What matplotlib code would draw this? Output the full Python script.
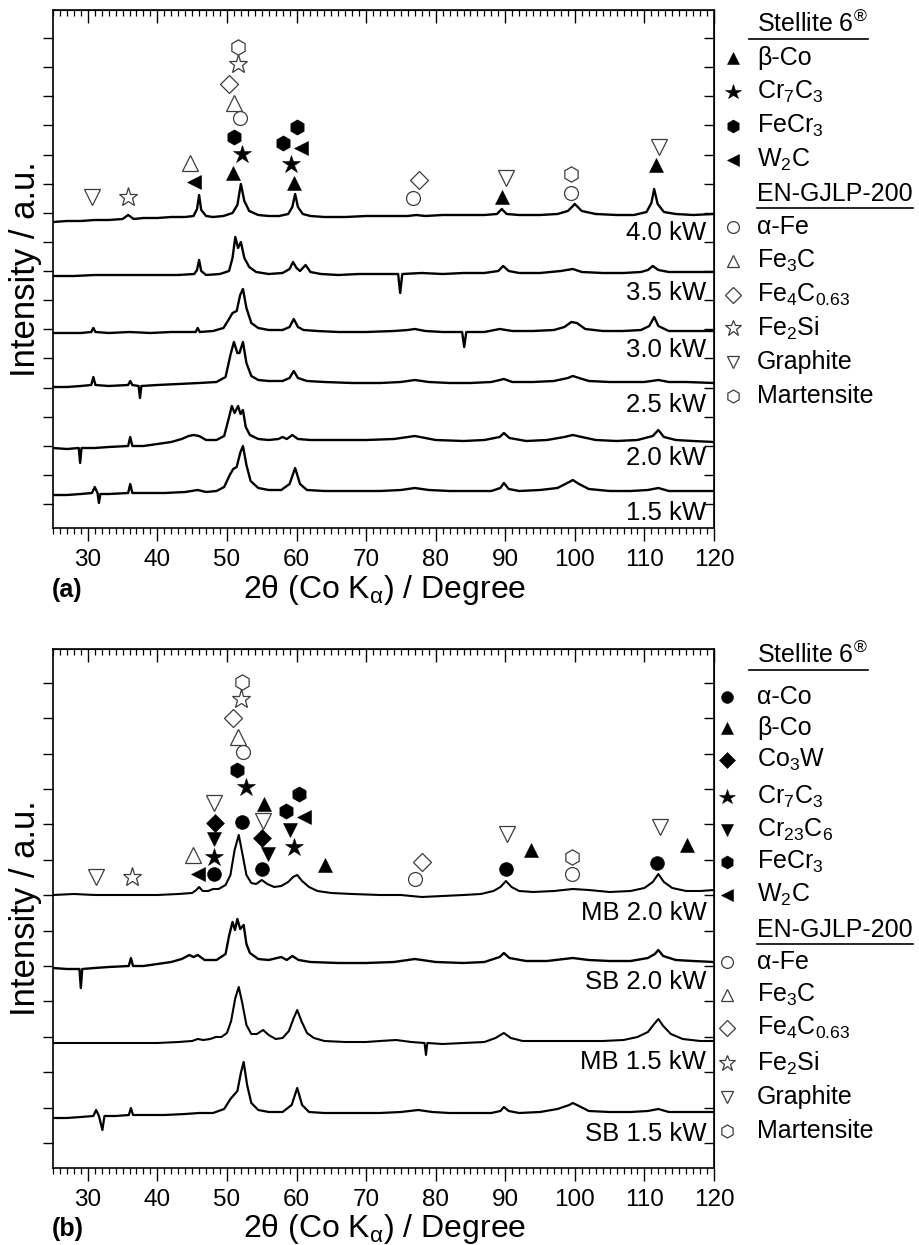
import matplotlib
matplotlib.use('Agg')
import matplotlib.pyplot as plt
from matplotlib.ticker import MultipleLocator, FixedLocator, NullFormatter
import numpy as np

plt.rcParams['font.family'] = ['Liberation Sans', 'DejaVu Sans']
plt.rcParams['mathtext.fontset'] = 'custom'
plt.rcParams['mathtext.rm'] = 'Liberation Sans'
plt.rcParams['mathtext.it'] = 'Liberation Sans:italic'
plt.rcParams['mathtext.bf'] = 'Liberation Sans:bold'
plt.rcParams['mathtext.default'] = 'regular'

# ---------------- data: panel (a) ----------------
a_labels = ['4.0 kW', '3.5 kW', '3.0 kW', '2.5 kW', '2.0 kW', '1.5 kW']
a_offsets = [311, 252, 195, 143, 83, 35]

a_40 = [(25,-5),(27,-4),(29,-4),(31,-3),(33,-3),(35,-2),(35.8,2),(36.6,-2),(38,-1),(40,-1),(42,0),(44,0),
        (45.2,1),(45.7,8),(46.0,22),(46.3,7),(47.0,1),(48,0),(49.5,1),(50.8,4),(51.5,12),(52.0,33),(52.5,16),
        (53.2,6),(54.5,2),(56,1),(57.5,1),(58.8,3),(59.4,10),(59.8,23),(60.2,10),(60.9,3),(62,1),(64,0),(67,0),
        (70,1),(73,1),(76,1),(77.2,2),(78.5,1),(81,2),(84,2),(87,2),(88.8,3),(89.5,8),(90.2,3),(92,2),(95,2),
        (97.5,3),(99.0,6),(100.0,13),(101.0,6),(103,3),(106,2),(108.5,2),(110.3,5),(111.0,14),(111.4,28),
        (111.9,13),(112.8,5),(114.5,3),(117,2),(120,3)]
a_35 = [(25,0),(28,0),(31,1),(34,1),(37,1),(40,1),(43,1),(45.3,2),(45.7,6),(46.0,16),(46.3,5),(47,1),(49,2),
        (50.3,5),(50.8,18),(51.2,39),(51.6,28),(52.0,34),(52.5,18),(53.2,9),(54.2,4),(56,2),(58,3),(59.0,7),
        (59.5,14),(60.0,8),(60.5,5),(61.3,11),(62.0,4),(63.5,2),(66,1),(69,2),(72,2),(74.6,2),(74.9,-17),
        (75.2,2),(78,3),(81,2),(84,3),(87,3),(89.0,5),(89.7,10),(90.5,5),(92,3),(95,3),(98,5),(99.7,7),(101,4),
        (104,3),(107,3),(109.5,4),(110.5,6),(111.2,10),(112,6),(113.5,4),(116,4),(120,4)]
a_30 = [(25,0),(27,0),(29,0),(30.5,1),(30.8,5),(31.1,1),(33,0),(36,1),(39,0),(42,1),(44,1),(45.5,1),(45.8,5),
        (46.1,1),(48,2),(49.5,5),(50.3,14),(50.8,20),(51.4,22),(51.9,38),(52.3,44),(52.8,25),(53.5,10),(54.5,5),
        (56,3),(58,3),(59.0,6),(59.6,14),(60.2,6),(61,3),(63,2),(66,1),(70,1),(74,2),(76,3),(77,4),(78.5,2),
        (81,1),(83.8,1),(84.1,-14),(84.4,1),(87,1),(89.2,4),(91,2),(94,2),(97,3),(98.5,6),(99.5,11),(100.3,10),
        (101.5,4),(104,2),(107,2),(109.5,3),(110.7,7),(111.4,16),(112.0,7),(113.5,2),(116,2),(120,2)]
a_25 = [(25,-2),(27,-2),(29,-1),(30.5,0),(30.8,8),(31.1,0),(33,-1),(35.8,0),(36.1,4),(36.4,0),(37.3,-1),
        (37.5,-13),(37.7,-1),(40,0),(43,1),(46,2),(48.5,3),(49.8,8),(50.5,30),(51.0,43),(51.5,32),(51.8,32),
        (52.3,43),(52.8,22),(53.5,9),(54.5,5),(56,4),(58,4),(59.0,7),(59.6,14),(60.2,7),(61.5,4),(64,3),(68,2),
        (72,2),(75,3),(77,5),(79,3),(82,2),(85,2),(88,3),(89.8,6),(91,3),(94,3),(97,4),(99.0,7),(99.7,9),
        (100.6,7),(102,4),(105,3),(108,3),(110,3),(112,5),(113.5,3),(116,3),(120,2)]
a_20 = [(25,-3),(27,-4),(28.7,-3),(28.9,-18),(29.1,-3),(31,-3),(33,-2),(35.8,-1),(36.1,8),(36.4,-1),(38,-1),
        (40,1),(42,3),(43.5,6),(44.5,9),(45.2,10),(46.0,9),(47,5),(48.5,5),(49.6,9),(50.2,25),(50.7,39),
        (51.1,32),(51.6,39),(51.95,31),(52.3,35),(52.7,18),(53.3,10),(54.5,6),(56,5),(57.4,6),(58.0,8),(58.6,6),
        (59.4,10),(60.2,6),(62,5),(65,5),(70,5),(74,6),(77,9),(80,5),(84,4),(87,5),(89.2,8),(89.8,12),(90.6,7),
        (93,4),(96,5),(98.5,8),(99.7,10),(101,8),(103,5),(106,4),(109,5),(111.2,9),(112,15),(112.8,8),
        (114.5,5),(117,4),(120,3)]
a_15 = [(25,-2),(27,-2),(29,-1),(30.6,0),(31.0,6),(31.4,0),(31.6,-10),(31.8,-1),(33,-1),(35.8,0),(36.1,9),
        (36.4,0),(38,0),(41,0),(44,1),(45.8,3),(47,1),(48.5,2),(49.6,6),(50.4,18),(50.9,24),(51.4,26),(51.9,40),
        (52.3,47),(52.8,28),(53.4,12),(54.5,5),(56,3),(57.8,3),(59.0,9),(59.8,25),(60.5,9),(61.5,3),(64,2),
        (68,2),(72,2),(75,3),(77,5),(79,3),(82,2),(85,2),(88,2),(89.3,5),(89.8,10),(90.5,4),(92,2),(95,3),
        (97.5,5),(99.2,11),(99.7,13),(100.6,9),(102,4),(105,2),(108,2),(110.5,3),(112,5),(113.5,2),(116,2),
        (120,2)]
a_traces = [a_40, a_35, a_30, a_25, a_20, a_15]

# ---------------- data: panel (b) ----------------
b_labels = ['MB 2.0 kW', 'SB 2.0 kW', 'MB 1.5 kW', 'SB 1.5 kW']
b_offsets = [273, 202, 125, 53]

b_mb20 = [(25,0),(28,1),(31,0),(34,0),(37,0),(40,0),(43,1),(45.0,2),(45.6,5),(46.0,8),(46.5,4),(47.3,4),
          (48.0,6),(48.8,6),(49.8,10),(50.5,20),(51.1,45),(51.7,60),(52.2,42),(52.8,20),(53.5,12),(54.2,11),
          (55.0,15),(55.8,11),(56.8,8),(57.8,9),(58.8,13),(59.5,18),(60.1,20),(60.8,14),(61.8,8),(63,4),(65,2),
          (68,1),(72,0),(75,0),(78,-2),(81,-1),(84,0),(86.5,1),(88.3,4),(89.3,8),(90.1,14),(90.9,8),(92,4),
          (94,3),(97,4),(99.7,6),(102,5),(105,3),(108,4),(110,7),(111.2,13),(112.0,21),(112.8,13),(114,7),
          (116,4),(118,4),(120,5)]
b_sb20 = [(25,-2),(27,-3),(28.8,-3),(29.0,-22),(29.2,-3),(31,-2),(33,-1),(35.9,0),(36.2,8),(36.5,0),(38,0),
          (40,2),(42,4),(43.5,7),(44.6,11),(45.2,9),(45.8,11),(46.8,6),(48.5,6),(49.8,12),(50.3,30),(50.8,44),
          (51.15,36),(51.5,47),(51.9,37),(52.4,41),(52.8,22),(53.3,13),(54.5,7),(56,6),(57.8,9),(58.6,6),
          (59.4,10),(60.3,6),(62,4),(66,3),(70,3),(74,4),(77,7),(80,4),(84,3),(87,4),(89.2,9),(89.8,13),
          (90.6,8),(93,5),(96,5),(99.7,8),(102,6),(105,5),(108,5),(110.5,8),(111.5,12),(112,16),(112.7,10),
          (114.5,6),(117,5),(120,4)]
b_mb15 = [(25,0),(28,0),(31,0),(34,0),(37,0),(40,0),(43,1),(45.0,2),(45.8,4),(46.6,3),(47.6,4),(48.4,6),
          (49.2,6),(50.0,10),(50.6,22),(51.2,45),(51.7,56),(52.2,40),(52.8,18),(53.5,9),(54.3,9),(55.2,13),
          (56.0,8),(57.0,4),(58.0,5),(58.9,12),(59.6,25),(60.1,33),(60.7,22),(61.5,10),(62.5,5),(64,2),(67,1),
          (70,1),(72,2),(74.3,3),(76.5,1),(78.4,0),(78.6,-12),(78.8,0),(81,-1),(84,0),(87,1),(88.6,5),(89.8,10),
          (90.8,5),(92.5,2),(96,2),(100,2),(104,2),(107,3),(109,6),(110.5,11),(111.4,19),(112.0,24),(112.7,17),
          (113.8,9),(115.5,4),(118,2),(120,2)]
b_sb15 = [(25,-3),(27,-3),(29,-2),(30.8,-1),(31.2,5),(31.6,-1),(32.1,-15),(32.4,-1),(34,-1),(35.9,0),(36.2,7),
          (36.5,0),(38,0),(41,0),(44,1),(46,2),(48,2),(49.6,6),(50.5,16),(51.0,20),(51.5,24),(52.0,42),(52.4,53),
          (52.9,30),(53.5,12),(54.5,5),(56,3),(58,3),(59.3,10),(60.1,27),(60.8,10),(61.8,3),(64,2),(68,2),(72,2),
          (75,3),(77.5,5),(79.5,3),(82,2),(85,2),(88,2),(89.3,4),(89.8,8),(90.5,4),(92,2),(95,3),(97.5,6),
          (99.2,10),(99.7,12),(100.6,9),(102,4),(105,3),(108,3),(110.5,4),(112,6),(113.5,3),(116,3),(120,3)]
b_traces = [b_mb20, b_sb20, b_mb15, b_sb15]

# ---------------- phase markers (2theta, height) ----------------
a_marks = {
    'Graphite':   [(30.6, 331), (90.1, 350), (112.1, 381)],
    'Fe2Si':      [(35.8, 331), (51.6, 464)],
    'Fe3C':       [(44.7, 365), (51.0, 425)],
    'W2C':        [(45.3, 346), (60.6, 380)],
    'beta-Co':    [(50.9, 355), (59.7, 345), (89.5, 331), (111.7, 363)],
    'Cr7C3':      [(52.2, 374), (59.2, 364)],
    'FeCr3':      [(51.0, 391), (58.1, 385), (60.0, 401)],
    'alpha-Fe':   [(51.9, 410), (76.7, 330), (99.5, 335)],
    'Fe4C0.63':   [(50.3, 444), (77.6, 348)],
    'Martensite': [(51.6, 481), (99.5, 354)],
}
b_marks = {
    'Graphite':   [(31.2, 291), (48.1, 365), (55.2, 347), (90.3, 334), (112.2, 341)],
    'Fe2Si':      [(36.4, 291), (52.0, 469)],
    'Fe3C':       [(45.1, 313), (51.6, 431)],
    'W2C':        [(45.8, 294), (61.1, 351)],
    'alpha-Co':   [(48.1, 294), (52.2, 346), (55.0, 299), (90.1, 299), (111.8, 305)],
    'Cr7C3':      [(48.1, 311), (52.7, 381), (59.6, 321)],
    'Cr23C6':     [(48.1, 329), (55.9, 314), (59.0, 338)],
    'Co3W':       [(48.3, 345), (55.0, 330)],
    'FeCr3':      [(51.4, 398), (58.5, 357), (60.4, 374)],
    'alpha-Fe':   [(52.3, 416), (77.0, 289), (99.6, 294)],
    'Fe4C0.63':   [(50.9, 450), (78.0, 306)],
    'Martensite': [(52.2, 486), (99.6, 311)],
    'beta-Co':    [(55.3, 364), (64.1, 303), (93.7, 318), (116.1, 323)],
}

a_legend_stellite = ['beta-Co', 'Cr7C3', 'FeCr3', 'W2C']
b_legend_stellite = ['alpha-Co', 'beta-Co', 'Co3W', 'Cr7C3', 'Cr23C6', 'FeCr3', 'W2C']
legend_gjlp = ['alpha-Fe', 'Fe3C', 'Fe4C0.63', 'Fe2Si', 'Graphite', 'Martensite']

# ---------------- styles ----------------
NAME = {
    'alpha-Co': 'α-Co', 'beta-Co': 'β-Co', 'Co3W': r'Co$_3$W', 'Cr7C3': r'Cr$_7$C$_3$',
    'Cr23C6': r'Cr$_{23}$C$_6$', 'FeCr3': r'FeCr$_3$', 'W2C': r'W$_2$C', 'alpha-Fe': 'α-Fe',
    'Fe3C': r'Fe$_3$C', 'Fe4C0.63': r'Fe$_4$C$_{0.63}$', 'Fe2Si': r'Fe$_2$Si',
    'Graphite': 'Graphite', 'Martensite': 'Martensite',
}
STYLE = {
    'alpha-Co':   ('o', 10.0, True),
    'beta-Co':    ('^', 10.5, True),
    'Co3W':       ('D', 9.0, True),
    'Cr7C3':      ('*', 13.5, True),
    'Cr23C6':     ('v', 10.5, True),
    'FeCr3':      ('h', 11.0, True),
    'W2C':        ('<', 10.5, True),
    'alpha-Fe':   ('o', 10.0, False),
    'Fe3C':       ('^', 11.0, False),
    'Fe4C0.63':   ('D', 9.0, False),
    'Fe2Si':      ('*', 14.0, False),
    'Graphite':   ('v', 11.0, False),
    'Martensite': ('h', 11.0, False),
}
OPEN_EDGE = '#3c3c3c'


def mstyle(key, scale=1.0):
    m, ms, filled = STYLE[key]
    if filled:
        return dict(marker=m, ms=ms * scale, mfc='black', mec='black', mew=0.4, ls='none')
    return dict(marker=m, ms=ms * scale, mfc='white', mec=OPEN_EDGE, mew=0.9, ls='none')


W, H = 919, 1245
fig = plt.figure(figsize=(W / 100, H / 100), dpi=100)

L, R = 53, 714
FS_TICK = 17.5


def make_panel(top, bottom, ytick_start, ytick_step):
    ax = fig.add_axes([L / W, 1 - bottom / H, (R - L) / W, (bottom - top) / H])
    hgt = bottom - top
    ax.set_xlim(25, 120)
    ax.set_ylim(0, hgt)
    ax.xaxis.set_major_locator(FixedLocator(np.arange(30, 121, 10)))
    ax.xaxis.set_minor_locator(MultipleLocator(1))
    yt = np.arange(ytick_start, hgt - 5, ytick_step)
    ax.yaxis.set_major_locator(FixedLocator(yt))
    ax.yaxis.set_major_formatter(NullFormatter())
    ax.tick_params(axis='x', which='major', direction='out', length=9, width=1.0, labelsize=FS_TICK, pad=6)
    ax.tick_params(axis='x', which='minor', direction='out', length=4.5, width=0.9)
    ax.tick_params(axis='y', which='major', direction='out', length=7, width=1.0)
    for s in ax.spines.values():
        s.set_linewidth(1.2)
    top_ax = ax.secondary_xaxis('top')
    top_ax.xaxis.set_major_locator(FixedLocator(np.arange(30, 121, 10)))
    top_ax.xaxis.set_minor_locator(MultipleLocator(1))
    top_ax.xaxis.set_major_formatter(NullFormatter())
    top_ax.tick_params(axis='x', which='major', direction='in', length=9, width=1.0)
    top_ax.tick_params(axis='x', which='minor', direction='in', length=4.5, width=0.9)
    right_ax = ax.secondary_yaxis('right')
    right_ax.yaxis.set_major_locator(FixedLocator(yt))
    right_ax.yaxis.set_major_formatter(NullFormatter())
    right_ax.tick_params(axis='y', which='major', direction='in', length=7, width=1.0)
    return ax


ax_a = make_panel(10, 528, 24, 29.125)
ax_b = make_panel(649, 1168, 25, 35.4)


def draw_traces(ax, traces, offsets, labels, label_y, lws):
    for tr, off, lab, ly, lw in zip(traces, offsets, labels, label_y, lws):
        x, y = zip(*tr)
        ax.plot(x, np.array(y) + off, color='black', lw=lw, solid_joinstyle='round')
        ax.text(118.9, ly, lab, ha='right', va='center', fontsize=18.5)


draw_traces(ax_a, a_traces, a_offsets, a_labels, [295, 235, 178, 123, 70, 15], [1.7] * 6)
draw_traces(ax_b, b_traces, b_offsets, b_labels, [255, 186, 106, 34], [1.5, 1.7, 1.5, 1.6])


def draw_marks(ax, marks):
    for key, pts in marks.items():
        x, y = zip(*pts)
        ax.plot(x, y, clip_on=False, zorder=5, **mstyle(key))


draw_marks(ax_a, a_marks)
draw_marks(ax_b, b_marks)

# ---------------- overlay for legends & labels ----------------
ov = fig.add_axes([0, 0, 1, 1])
ov.set_xlim(0, W)
ov.set_ylim(H, 0)
ov.axis('off')
ov.patch.set_visible(False)

FS_LEG = 18
headers = []


def draw_legend(stellite, rows_y, mx, tx):
    i = 0
    t = ov.text(tx, rows_y[i], 'Stellite 6$^{®}$', ha='left', va='center', fontsize=FS_LEG)
    headers.append((t, 8))
    i += 1
    for key in stellite:
        ov.plot([mx], [rows_y[i]], **mstyle(key, 0.85))
        ov.text(tx, rows_y[i], NAME[key], ha='left', va='center', fontsize=FS_LEG)
        i += 1
    t = ov.text(tx, rows_y[i], 'EN-GJLP-200', ha='left', va='center', fontsize=FS_LEG)
    headers.append((t, 0))
    i += 1
    for key in legend_gjlp:
        ov.plot([mx], [rows_y[i]], **mstyle(key, 0.85))
        ov.text(tx, rows_y[i], NAME[key], ha='left', va='center', fontsize=FS_LEG)
        i += 1


draw_legend(a_legend_stellite, [24, 58, 92, 126, 160, 194, 227, 261, 295, 328, 362, 396], 733, 757)
draw_legend(b_legend_stellite, [655, 697, 728, 760, 797, 830, 862, 895, 930, 962, 995, 1028, 1063, 1097, 1131],
            727, 757)

for cy in [(10 + 528) / 2, (649 + 1168) / 2]:
    ov.text(26, cy, 'Intensity / a.u.', rotation=90, ha='center', va='center', fontsize=25)
for yb, tag in [(590, '(a)'), (1229, '(b)')]:
    ov.text(385, yb, r'2θ (Co K$_{α}$) / Degree', ha='center', va='center', fontsize=23)
    ov.text(52, yb, tag, ha='left', va='center', fontsize=18, fontweight='bold')

# underline headers
fig.canvas.draw()
inv = ov.transData.inverted()
for t, lead in headers:
    bb = t.get_window_extent()
    (x0, y0), (x1, y1) = inv.transform([(bb.x0, bb.y0), (bb.x1, bb.y1)])
    ov.plot([x0 - lead, x1], [y0 + 2, y0 + 2], color='black', lw=1.2)

fig.savefig('out.png', dpi=100)
